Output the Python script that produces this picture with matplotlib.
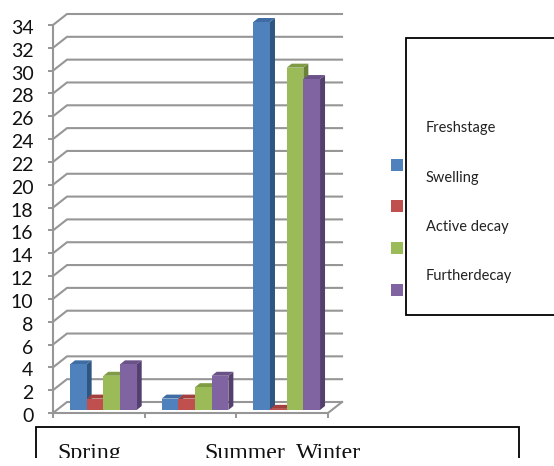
import matplotlib
matplotlib.use("Agg")
import matplotlib.pyplot as plt
from matplotlib.patches import Polygon, Rectangle
from matplotlib.lines import Line2D
from matplotlib.transforms import IdentityTransform, Affine2D

seasons = ["Spring", "Summer", "Winter"]
stages = ["Freshstage", "Swelling", "Active decay", "Furtherdecay"]
fresh = [4, 1, 34]
swelling = [1, 1, 0.1]
active = [3, 2, 30]
further = [4, 3, 29]
series = [fresh, swelling, active, further]
yticks = list(range(0, 36, 2))

front = ["#4F81BD", "#C0504D", "#9BBB59", "#8064A2"]
side = ["#2F5680", "#843331", "#6A8138", "#54406F"]
top = ["#3F6DA3", "#A33F3C", "#7F9C45", "#6A5288"]
grey = "#969696"

W, H = 554, 466
fig = plt.figure(figsize=(W / 100, H / 100), dpi=100)
ax = fig.add_axes([53 / W, (H - 413) / H, 275 / W, 388 / H])
ax.set_xlim(0, 3)
ax.set_ylim(0, 34)
ax.patch.set_visible(False)
for s in ["top", "right", "bottom"]:
    ax.spines[s].set_visible(False)
ax.spines["left"].set_color(grey)
ax.spines["left"].set_linewidth(1.5)

ax.set_yticks(yticks)
ax.set_yticklabels([str(t) for t in yticks], family="Lato", fontsize=14, color="#111111")
ax.tick_params(axis="y", length=3.6, width=1.4, color=grey, pad=10.5)
for lab in ax.get_yticklabels():
    lab.set_transform(lab.get_transform() + Affine2D().translate(0, -2))
ax.set_xticks([0, 1, 2, 3])
ax.set_xticklabels([])
ax.tick_params(axis="x", length=3.6, width=1.4, color=grey)

fig.canvas.draw()
to_px = ax.transData.transform
ident = IdentityTransform()

# back wall + left wall lines, 3d look is faked with a pixel offset
wx, wy = 14, 11
for t in yticks:
    x0, y0 = to_px((0, t))
    x1, y1 = to_px((3, t))
    fig.add_artist(Line2D([x0, x0 + wx, x1 + wx], [y0, y0 + wy, y1 + wy], color=grey, lw=1.5,
                          transform=ident, solid_joinstyle="miter", zorder=-1))
x0, y0 = to_px((0, 0))
x1, y1 = to_px((3, 0))
fig.add_artist(Line2D([x0, x1, x1 + wx], [y0, y1, y1 + wy], color=grey, lw=1.5, transform=ident, zorder=-1))

# bars
bw = 0.182
start = 0.136
ox, oy = 4.5, 3
dx, dy = 5, 4
for i, vals in enumerate(series):
    for j, v in enumerate(vals):
        xa, ya = to_px((j + start + i * bw, 0))
        xb, yb = to_px((j + start + (i + 1) * bw, v))
        xa, xb = xa + ox, xb + ox
        ya, yb = ya + oy, yb + oy
        ax.add_patch(Polygon([(xb, ya), (xb + dx, ya + dy), (xb + dx, yb + dy), (xb, yb)],
                             fc=side[i], ec="none", transform=ident, clip_on=False, zorder=3 + i))
        ax.add_patch(Polygon([(xa, yb), (xa + dx, yb + dy), (xb + dx, yb + dy), (xb, yb)],
                             fc=top[i], ec="none", transform=ident, clip_on=False, zorder=3 + i))
        ax.add_patch(Rectangle((xa, ya), xb - xa, yb - ya, fc=front[i], ec="none",
                               transform=ident, clip_on=False, zorder=3.5 + i))


def px_text(x, y, s, **kw):
    fig.text(x / W, (H - y) / H, s, **kw)


# legend box, keys sit outside it like in the original
fig.add_artist(Rectangle((406 / W, (H - 315) / H), 160 / W, 277 / H, fc="white", ec="black", lw=1.3,
                         transform=fig.transFigure))
key_y = [165, 206, 248, 290]
text_y = [128, 178, 227, 276]
for i, name in enumerate(stages):
    fig.add_artist(Rectangle((391 / W, (H - key_y[i] - 6) / H), 12 / W, 12 / H, fc=front[i], ec="none",
                             transform=fig.transFigure))
    px_text(426, text_y[i], name, family="Lato", fontsize=10.5, va="center", color="#222222")

# category labels in a cut off box under the chart
fig.add_artist(Rectangle((36 / W, (H - 500) / H), 483 / W, 73 / H, fc="white", ec="black", lw=1.3,
                         transform=fig.transFigure, clip_on=False))
label_x = [57, 204, 296]
for lx, name in zip(label_x, seasons):
    px_text(lx, 459, name, family="Liberation Serif", fontsize=17.2, va="baseline", color="#111111")
fig.add_artist(Rectangle((0, 0), 1, (H - 458) / H, fc="white", ec="none", transform=fig.transFigure,
                         zorder=20))

fig.savefig("out.png", dpi=100)
